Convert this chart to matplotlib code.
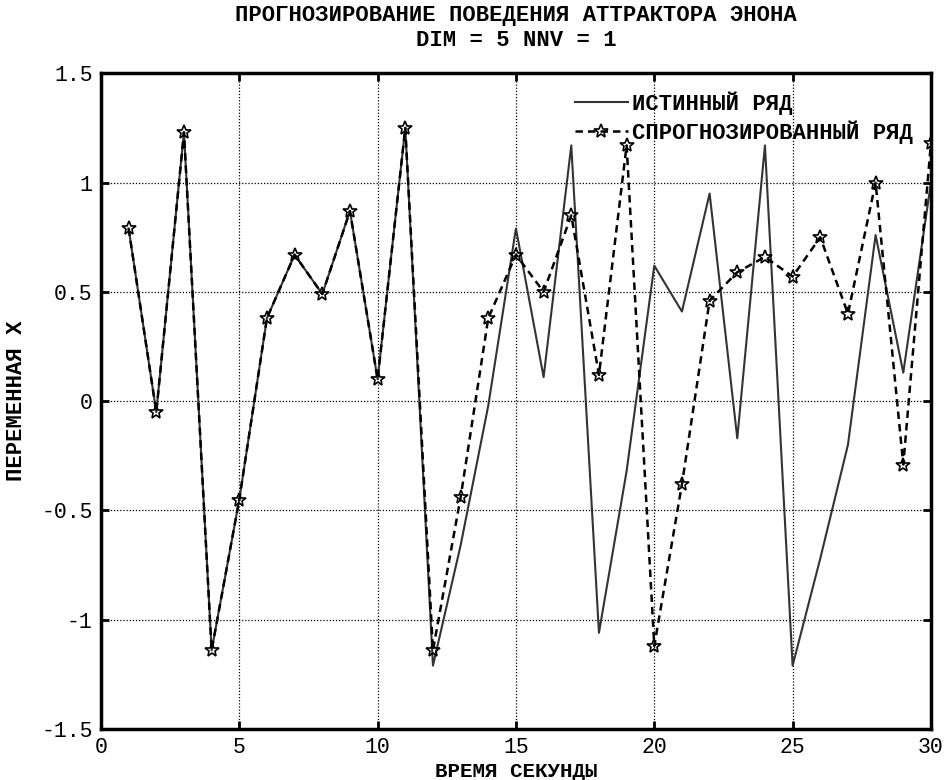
import matplotlib
matplotlib.use("Agg")
import matplotlib.pyplot as plt

# Данные
t = list(range(1, 31))
istinnyi = [0.79, -0.05, 1.23, -1.14, -0.45, 0.38, 0.67, 0.49, 0.87, 0.10,
            1.25, -1.21, -0.66, -0.02, 0.79, 0.11, 1.17, -1.06, -0.32, 0.62,
            0.41, 0.95, -0.17, 1.17, -1.21, -0.72, -0.20, 0.76, 0.13, 1.0]
prognoz = [0.79, -0.05, 1.23, -1.14, -0.45, 0.38, 0.67, 0.49, 0.87, 0.10,
           1.25, -1.14, -0.44, 0.38, 0.67, 0.50, 0.85, 0.12, 1.17, -1.12,
           -0.38, 0.46, 0.59, 0.66, 0.57, 0.75, 0.40, 1.00, -0.29, 1.18]

xticks = [0, 5, 10, 15, 20, 25, 30]
yticks = [-1.5, -1, -0.5, 0, 0.5, 1, 1.5]
ytick_labels = ["-1.5", "-1", "-0.5", "0", "0.5", "1", "1.5"]

plt.rcParams["font.family"] = ["Liberation Mono", "DejaVu Sans Mono"]

fig = plt.figure(figsize=(9.48, 7.8), dpi=100)
ax = fig.add_axes([0.1065, 0.0654, 0.8755, 0.8406])

ax.plot(t, istinnyi, color="#333333", linewidth=1.5, label="ИСТИННЫЙ РЯД")
ax.plot(t, prognoz, color="black", linewidth=1.8, linestyle=(0, (3, 2)),
        marker="*", markersize=10, markerfacecolor="none",
        markeredgecolor="black", markeredgewidth=1.2,
        label="СПРОГНОЗИРОВАННЫЙ РЯД")

ax.set_xlim(0, 30)
ax.set_ylim(-1.5, 1.5)
ax.set_xticks(xticks)
ax.set_yticks(yticks)
ax.set_yticklabels(ytick_labels)
ax.tick_params(direction="in", length=6, width=2, top=True, right=True,
               labelsize=15.5, pad=6)
for sp in ax.spines.values():
    sp.set_linewidth(2.5)

ax.grid(True, color="black", linestyle=(0, (1, 1.5)), linewidth=0.9)

ax.set_title("ПРОГНОЗИРОВАНИЕ ПОВЕДЕНИЯ АТТРАКТОРА ЭНОНА\nDIM = 5 NNV = 1",
             fontsize=16, fontweight="bold", pad=20, linespacing=1.25)
ax.set_xlabel("ВРЕМЯ СЕКУНДЫ", fontsize=15, fontweight="bold")
ax.xaxis.set_label_coords(0.5, -0.05)
ax.set_ylabel("ПЕРЕМЕННАЯ X", fontsize=16, fontweight="bold", labelpad=10)

ax.legend(loc="upper right", frameon=False, handlelength=2.4,
          handletextpad=0.2, prop={"weight": "bold", "size": 16},
          borderaxespad=0.4, labelspacing=0.25)

fig.savefig("out.png", dpi=100)
plt.close(fig)
